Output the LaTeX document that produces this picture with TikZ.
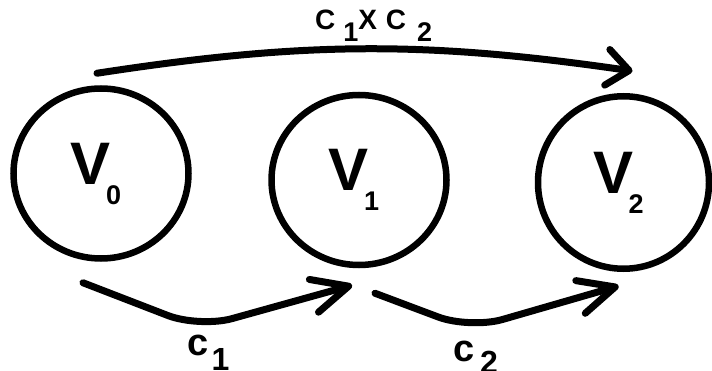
\documentclass[tikz,border=0pt]{standalone}
\usepackage{fontspec}
\setmainfont{Liberation Sans}
\usetikzlibrary{arrows.meta,shapes.geometric}

\newcommand{\lowdigit}[3]{\raisebox{-#1}{\fontsize{#2}{#2}\selectfont #3}}
\newcommand{\vname}[1]{\fontsize{60}{60}\selectfont V\kern-5pt\lowdigit{20pt}{27}{#1}\kern10pt}

\begin{document}
\begin{tikzpicture}[x=1pt, y=-1pt, line cap=round,
	every node/.style={font=\bfseries, inner sep=0pt},
	vertex/.style={ellipse, draw, line width=6.5pt, minimum width=175pt, minimum height=170pt},
	flow/.style={line width=7pt, line join=round},
	>={Straight Barb[length=22pt, width=36pt, round]}]
	\useasboundingbox (0,0) rectangle (712,371);
	\node[vertex] (v0) at (101,173.5) {\vname{0}};
	\node[vertex] (v1) at (359,180) {\vname{1}};
	\node[vertex, minimum width=171pt, minimum height=172.5pt] (v2) at (623.5,182.5) {\vname{2}};
	\coordinate (low1) at (199.4,327.7);
	\coordinate (low2) at (469.9,328.9);
	% product cost on top
	\draw[flow, ->] ([shift={(-4,-12)}]v0.north) to[bend left=8.5]
		node[above=4pt, xshift=9pt] {\fontsize{28}{28}\selectfont C\hspace{8pt}\lowdigit{12pt}{27}{1}X\hspace{9pt}C\hspace{11pt}\lowdigit{12pt}{27}{2}}
		([shift={(9,-22)}]v2.north);
	% single costs below
	\draw[flow, ->, rounded corners=34pt, >={Straight Barb[length=36pt, width=34pt, round]}]
		([shift={(-18,21)}]v0.south) -- (low1)
		node[below=4pt, xshift=9pt] {\fontsize{38}{38}\selectfont c\hspace{3pt}\lowdigit{15pt}{32}{1}}
		-- ([shift={(-7,17)}]v1.south);
	\draw[flow, ->, rounded corners=34pt, >={Straight Barb[length=36pt, width=34pt, round]}]
		([shift={(16,25)}]v1.south) -- (low2)
		node[below=9pt, xshift=6pt] {\fontsize{38}{38}\selectfont c\hspace{5pt}\lowdigit{12pt}{32}{2}}
		-- ([shift={(-5,14)}]v2.south);
\end{tikzpicture}
\end{document}
